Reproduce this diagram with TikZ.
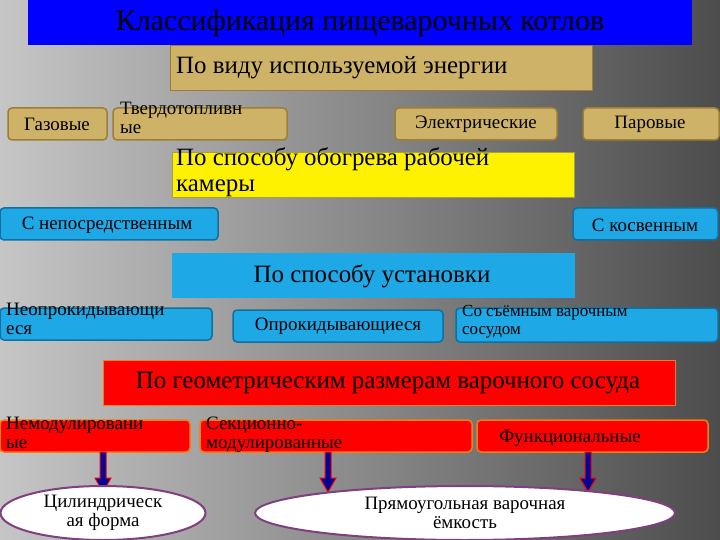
\documentclass[tikz,border=0pt]{standalone}
\usepackage{fontspec}
\setmainfont{Liberation Serif}
\usetikzlibrary{shapes.geometric}
\begin{document}
\begin{tikzpicture}[x=1bp,y=-1bp,
 bx/.style={rounded corners=4bp,line width=1.5bp},
 tan/.style={bx,fill=tanc,draw=tand},
 cy/.style={bx,fill=cyc,draw=cyd},
 rd/.style={bx,fill=red,draw=orange!70!brown},
 tx/.style={font=\fontsize{19}{19}\selectfont,align=left,inner sep=0pt},
 big/.style={font=\fontsize{25}{25}\selectfont,inner sep=0pt},
 arr/.style={draw=red,fill=blue!60!black,line width=1bp},
 ell/.style={ellipse,fill=white,draw=violet!50!gray,line width=2bp}]
\definecolor{tanc}{HTML}{CDB267}\definecolor{tand}{HTML}{9C7F35}
\definecolor{cyc}{HTML}{1EA8E6}\definecolor{cyd}{HTML}{1070A0}
\useasboundingbox (0,0) rectangle (720,540);
\shade[left color=gray!45,right color=black!70] (0,0) rectangle (720,540);
% title
\fill[blue] (28,0) rectangle (692,45);
\node[big,font=\fontsize{30}{30}\selectfont] (t) at (360,23) {Классификация пищеварочных котлов};
% energy
\draw[fill=tanc,draw=tand] (170,45) rectangle (592,90);
\node[big,anchor=west] (e) at (176,68) {По виду используемой энергии};
\draw[tan] (8,108) rectangle (107,140); \node[tx] (g) at (57,124) {Газовые};
\draw[tan] (113,108) rectangle (287,140); \node[tx,anchor=north west] (tv) at (120,102) {Твердотопливн\\ые};
\draw[tan] (395,108) rectangle (557,140); \node[tx] (el) at (476,124) {Электрические};
\draw[tan] (583,108) rectangle (719,140); \node[tx] (p) at (650,124) {Паровые};
% heating
\draw[fill=yellow,draw=yellow!60!black] (172,152) rectangle (574,197);
\node[big,anchor=north west,align=left,font=\fontsize{25}{27}\selectfont] (h) at (176,147) {По способу обогрева рабочей\\камеры};
\draw[cy] (0,208) rectangle (218,240); \node[tx] (n1) at (107,225) {С непосредственным};
\draw[cy] (573,208) rectangle (718,240); \node[tx] (n2) at (645,225) {С косвенным};
% install
\fill[cyc] (172,253) rectangle (575,298);
\node[big] (u) at (372,276) {По способу установки};
\draw[cy] (0,308) rectangle (212,340); \node[tx,anchor=north west] (u1) at (6,303) {Неопрокидывающи\\еся};
\draw[cy] (233,310) rectangle (443,342); \node[tx] (u2) at (338,326) {Опрокидывающиеся};
\draw[cy] (456,308) rectangle (718,342); \node[tx,anchor=north west,font=\fontsize{17}{18}\selectfont] (u3) at (462,305) {Со съёмным варочным\\сосудом};
% geometry
\draw[fill=red,draw=orange!70!brown] (103,360) rectangle (675,405);
\node[big] (r) at (388,383) {По геометрическим размерам варочного сосуда};
\draw[rd] (0,420) rectangle (190,452); \node[tx,anchor=north west] (r1) at (6,417) {Немодулировани\\ые};
\draw[rd] (200,420) rectangle (472,452); \node[tx,anchor=north west] (r2) at (206,417) {Секционно-\\модулированные};
\draw[rd] (477,420) rectangle (708,452); \node[tx] (r3) at (570,438) {Функциональные};
% arrows
\foreach \x in {103,328,588}{
 \draw[arr] (\x-3,452) -- (\x+3,452) -- (\x+3,478) -- (\x+8,478) -- (\x,492) -- (\x-8,478) -- (\x-3,478) -- cycle;}
\node[ell,minimum width=205bp,minimum height=54bp] (c1) at (103,513) {};
\node[tx,align=center] at (103,513) {Цилиндрическ\\ая форма};
\node[ell,minimum width=420bp,minimum height=54bp] (c2) at (465,513) {};
\node[tx,align=center] at (465,513) {Прямоугольная варочная\\ёмкость};
\end{tikzpicture}
\end{document}
